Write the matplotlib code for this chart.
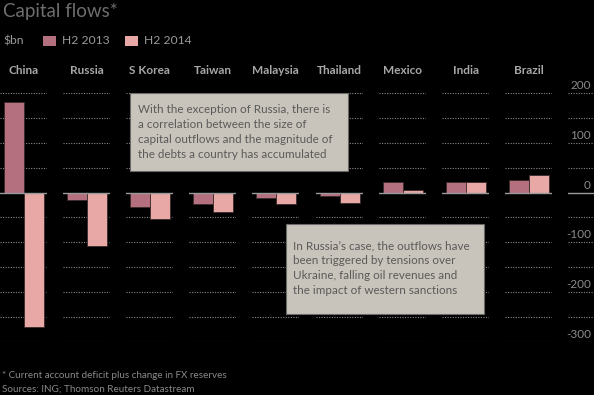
import matplotlib
matplotlib.use("Agg")
import matplotlib.pyplot as plt
from matplotlib.patches import Rectangle

countries = ["China", "Russia", "S Korea", "Taiwan", "Malaysia", "Thailand", "Mexico", "India", "Brazil"]
h2_2013 = [182, -14, -28, -22, -10, -6, 22, 22, 26]
h2_2014 = [-270, -108, -54, -38, -22, -20, 6, 22, 36]
series_labels = ["H2 2013", "H2 2014"]
y_ticks = [200, 100, 0, -100, -200, -300]
grid_vals = [200, 150, 100, 50, -50, -100, -150, -200, -250, -300]

W, H = 594, 395
BG = "#000000"
C13 = "#b5707f"
C14 = "#e8a8a6"
GRID = "#8a8a8a"
FONT = ["Lato", "DejaVu Sans"]
plt.rcParams["font.family"] = FONT

fig = plt.figure(figsize=(W / 100, H / 100), dpi=100, facecolor=BG)

def ax_px(x, y_top, w, h):
    return fig.add_axes([x / W, 1 - (y_top + h) / H, w / W, h / H])

YTOP, YBOT = 93, 342
YMIN, YMAX = -300, 200
panel_x = [0, 63, 126, 189, 252, 316, 379, 442, 505]
PW = 47

for i, c in enumerate(countries):
    ax = ax_px(panel_x[i], YTOP, PW, YBOT - YTOP)
    ax.set_facecolor("none")
    ax.set_xlim(-0.7, 1.65)
    ax.set_ylim(YMIN, YMAX)
    for g in grid_vals:
        ax.axhline(g, color=GRID, lw=0.8, ls=(0, (1, 1.3)), zorder=0)
    ax.bar([0], [h2_2013[i]], width=1, color=C13, edgecolor="#3a2a2a", lw=0.6, zorder=2)
    ax.bar([1], [h2_2014[i]], width=1, color=C14, edgecolor="#3a2a2a", lw=0.6, zorder=2)
    ax.axhline(0, color="#9a9a9a", lw=1.0, zorder=3)
    ax.axis("off")
    fig.text((panel_x[i] + PW / 2) / W, 1 - 71 / H, c, ha="center", va="center",
             color="#a8a8a8", fontsize=8.5, fontweight="bold")

# y-axis column
yax = ax_px(568, YTOP, 26, YBOT - YTOP)
yax.set_facecolor("none")
yax.set_xlim(0, 1)
yax.set_ylim(YMIN, YMAX)
for g in grid_vals:
    yax.axhline(g, color=GRID, lw=0.8, ls=(0, (1, 1.3)), zorder=0)
yax.axhline(0, color="#9a9a9a", lw=1.0)
for t in y_ticks:
    yax.text(0.88, t + 4, f"{t}", ha="right", va="bottom", color="#8a8a8a", fontsize=8.5)
yax.axis("off")

# title and legend
fig.text(3 / W, 1 - 12 / H, "Capital flows*", ha="left", va="center", color="#6e6e6e", fontsize=13.5)
fig.text(3 / W, 1 - 41 / H, "$bn", ha="left", va="center", color="#9a9a9a", fontsize=8.7)
for x0, col, lab in [(43, C13, series_labels[0]), (125, C14, series_labels[1])]:
    fig.patches.append(Rectangle((x0 / W, 1 - 46 / H), 13 / W, 10 / H, transform=fig.transFigure,
                                 facecolor=col, edgecolor="none"))
    fig.text((x0 + 19) / W, 1 - 41 / H, lab, ha="left", va="center", color="#9a9a9a", fontsize=8.7)

# annotation boxes
BOX = "#c9c4bb"
fig.patches.append(Rectangle((130 / W, 1 - 171 / H), 218 / W, 78 / H, transform=fig.transFigure,
                             facecolor=BOX, edgecolor="#6a6a6a", lw=0.8, zorder=5))
fig.text(138 / W, 1 - 132 / H,
         "With the exception of Russia, there is\na correlation between the size of\ncapital outflows and the magnitude of\nthe debts a country has accumulated",
         ha="left", va="center", color="#5a5a5a", fontsize=8.4, linespacing=1.45, zorder=6)
fig.patches.append(Rectangle((286 / W, 1 - 314 / H), 198 / W, 90 / H, transform=fig.transFigure,
                             facecolor=BOX, edgecolor="#6a6a6a", lw=0.8, zorder=5))
fig.text(293 / W, 1 - 268 / H,
         "In Russia\u2019s case, the outflows have\nbeen triggered by tensions over\nUkraine, falling oil revenues and\nthe impact of western sanctions",
         ha="left", va="center", color="#5a5a5a", fontsize=8.4, linespacing=1.45, zorder=6)

# footnotes
fig.text(2 / W, 1 - 376 / H, "* Current account deficit plus change in FX reserves", ha="left", va="center",
         color="#8a8a8a", fontsize=7.1)
fig.text(2 / W, 1 - 389 / H, "Sources: ING; Thomson Reuters Datastream", ha="left", va="center",
         color="#8a8a8a", fontsize=7.1)

fig.savefig("out.png", dpi=100, facecolor=BG)
